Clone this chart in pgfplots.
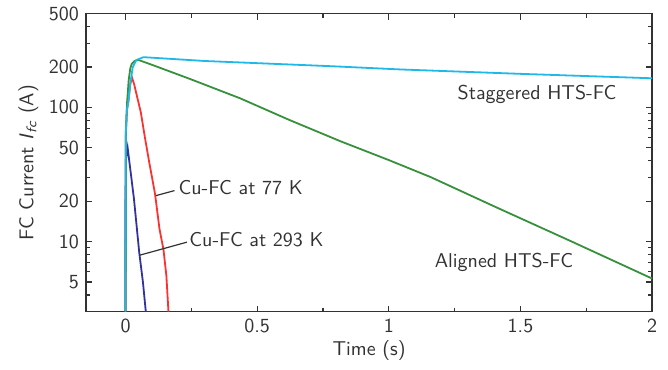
\documentclass[border=0pt]{standalone}
\usepackage{pgfplots}
\pgfplotsset{compat=1.18}
\definecolor{cyanc}{RGB}{30,185,230}
\definecolor{greenc}{RGB}{55,145,60}
\definecolor{redc}{RGB}{250,50,50}
\definecolor{bluec}{RGB}{50,50,160}
\definecolor{txt}{RGB}{50,50,50}
\begin{document}
\begin{tikzpicture}[font=\sffamily]
\begin{axis}[
  scale only axis, width=283pt, height=149pt,
  ymode=log, xmin=-0.15, xmax=2, ymin=3, ymax=500,
  clip=false,
  xtick={0,0.5,1,1.5,2}, minor xtick={0.25,0.75,1.25,1.75},
  xticklabels={0,0.5,1,1.5,2},
  ytick={5,10,20,50,100,200,500}, yticklabels={5,10,20,50,100,200,500},
  minor ytick={3,4,6,7,8,9,30,40,60,70,80,90,300,400},
  /pgf/number format/assume math mode=true,
  tick label style={font=\sffamily, text=txt},
  major tick length=3pt, minor tick length=2pt,
  axis line style={txt, line width=0.7pt},
  every tick/.style={txt, line width=0.6pt},
  xlabel={Time (s)},
  ylabel={FC Current \textit{I}\textsubscript{\textit{fc}} (A)},
  label style={text=txt},
  ylabel style={at={(axis description cs:-0.102,0.5)}, anchor=center},
  xlabel style={at={(axis description cs:0.5,-0.131)}, anchor=center},
]
% Cu-FC at 77 K
\addplot[redc, line width=0.9pt] coordinates {
 (0,3) (0.0005,30) (0.001,65) (0.005,95) (0.011,111) (0.018,150) (0.025,166)
 (0.033,148) (0.044,120) (0.058,92) (0.074,59) (0.09,39) (0.112,22.7) (0.129,12.4)
 (0.144,8.75) (0.155,5.6) (0.163,3)};
% Cu-FC at 293 K
\addplot[bluec, line width=0.9pt] coordinates {
 (0,3) (0.0005,40) (0.008,50) (0.032,20.8) (0.052,8.3) (0.066,5) (0.077,3)};
% Aligned HTS-FC
\addplot[greenc, line width=0.9pt] coordinates {
 (0,3) (0.001,60) (0.006,110) (0.012,160) (0.018,195) (0.024,212) (0.035,222)
 (0.049,226) (0.1,208) (0.245,163) (0.435,117) (0.62,81) (0.816,56) (1.0,40.5) (1.158,30.3)
 (1.411,17.9) (1.69,10.1) (2,5.3)};
% Staggered HTS-FC
\addplot[cyanc, line width=0.9pt] coordinates {
 (0,3) (0.0005,30) (0.001,65) (0.005,95) (0.011,111) (0.018,150) (0.027,198)
 (0.04,225) (0.068,237) (0.3,222) (0.78,203) (1.044,192) (1.5,178) (2,165)};
\draw[txt, line width=0.6pt] (axis cs:0.115,22) -- (axis cs:0.186,24);
\draw[txt, line width=0.6pt] (axis cs:0.052,7.9) -- (axis cs:0.233,9.9);
\node[anchor=west, text=txt, inner sep=0pt] at (axis cs:0.2,25.4) {Cu-FC at 77 K};
\node[anchor=west, text=txt, inner sep=0pt] at (axis cs:0.241,10.35) {Cu-FC at 293 K};
\node[anchor=west, text=txt, inner sep=0pt] at (axis cs:1.26,125) {Staggered HTS-FC};
\node[anchor=west, text=txt, inner sep=0pt] at (axis cs:1.173,6.95) {Aligned HTS-FC};
\path (rel axis cs:-0.152,-0.195) rectangle (rel axis cs:1.028,1.0436);
\end{axis}
\end{tikzpicture}
\end{document}
